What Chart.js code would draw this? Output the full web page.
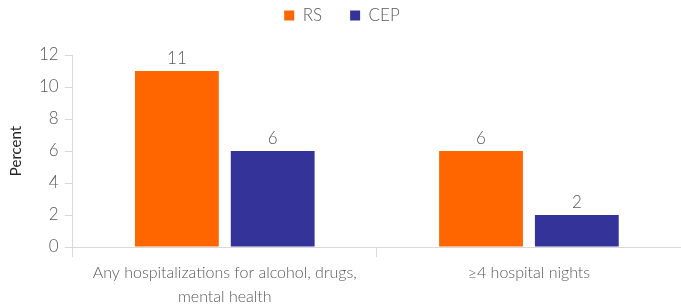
<!DOCTYPE html>
<html>
<head>
<meta charset="utf-8">
<script src="https://cdn.jsdelivr.net/npm/chart.js@4/dist/chart.umd.min.js"></script>
<style>
  html, body { margin: 0; padding: 0; background: #fff; }
  #wrap { width: 681px; height: 308px; }
</style>
</head>
<body>
<div id="wrap"><canvas id="chart" width="681" height="308"></canvas></div>
<script>
const categories = [
  ["Any hospitalizations for alcohol, drugs,", "mental health"],
  "\u22654 hospital nights"
]
const rsValues  = [11, 6]
const cepValues = [6, 2]
const yTicks    = [0, 2, 4, 6, 8, 10, 12]

const textGray = "#595959"
const axisGray = "#d9d9d9"
const fontFamily = "Lato, 'Open Sans', sans-serif"

// draws the value above each bar, using the bar elements' own positions
const valueLabels = {
  id: "valueLabels",
  afterDatasetsDraw(chart) {
    const ctx = chart.ctx
    ctx.save()
    ctx.fillStyle = textGray
    ctx.font = `300 17px ${fontFamily}`
    ctx.textAlign = "center"
    ctx.textBaseline = "bottom"
    chart.data.datasets.forEach((ds, i) => {
      chart.getDatasetMeta(i).data.forEach((bar, j) => {
        ctx.fillText(String(ds.data[j]), bar.x, bar.y - 4)
      })
    })
    ctx.restore()
  }
}

// extra room under the legend
const legendSpacer = {
  id: "legendSpacer",
  beforeInit(chart) {
    const fit = chart.legend.fit
    chart.legend.fit = function () {
      fit.bind(chart.legend)()
      this.height += 21
    }
  }
}

new Chart(document.getElementById("chart"), {
  type: "bar",
  data: {
    labels: categories,
    datasets: [
      { label: "RS",  data: rsValues,  backgroundColor: "#ff6600", categoryPercentage: 0.63, barPercentage: 0.875 },
      { label: "CEP", data: cepValues, backgroundColor: "#333399", categoryPercentage: 0.63, barPercentage: 0.875 }
    ]
  },
  options: {
    responsive: false,
    animation: false,
    layout: { padding: { top: -21, right: 0, left: 3, bottom: -5 } },
    plugins: {
      legend: {
        position: "top",
        labels: {
          boxWidth: 10, boxHeight: 10, padding: 28,
          color: textGray,
          font: { family: fontFamily, size: 17, weight: 300 }
        }
      },
      tooltip: { enabled: false }
    },
    scales: {
      x: {
        grid: { offset: true, drawOnChartArea: false, drawTicks: true, tickLength: 10, color: axisGray },
        border: { color: axisGray },
        ticks: { color: textGray, font: { family: fontFamily, size: 16, weight: 300, lineHeight: 1.5 }, padding: 4, maxRotation: 0 }
      },
      y: {
        min: 0, max: 12,
        afterBuildTicks: axis => { axis.ticks = yTicks.map(v => ({ value: v })) },
        grid: { drawOnChartArea: false, drawTicks: true, tickLength: 8, color: axisGray },
        border: { color: axisGray },
        ticks: { color: textGray, font: { family: fontFamily, size: 17, weight: 300 }, padding: 6 },
        title: { display: true, text: "Percent", color: "#262626", font: { family: fontFamily, size: 15 }, padding: { bottom: 8 } }
      }
    }
  },
  plugins: [valueLabels, legendSpacer]
})
</script>
</body>
</html>
